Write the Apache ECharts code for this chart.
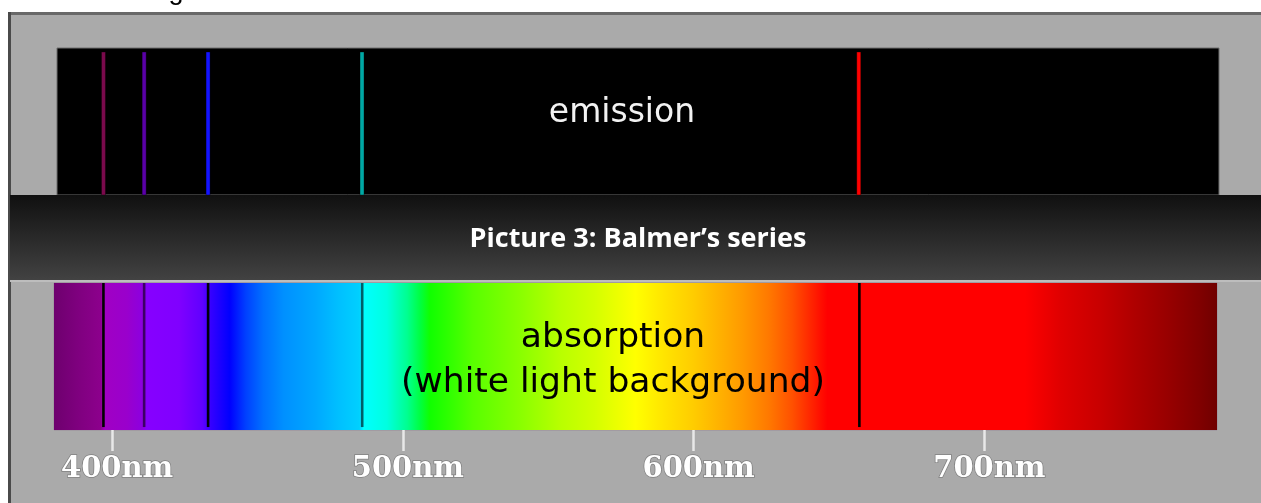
<!DOCTYPE html>
<html>
<head>
<meta charset="utf-8">
<title>Balmer series</title>
<script src="https://cdn.jsdelivr.net/npm/echarts@6/dist/echarts.min.js"></script>
<style>
  html, body { margin: 0; padding: 0; background: #ffffff; }
  #chart { width: 1261px; height: 503px; }
</style>
</head>
<body>
<div id="chart"></div>
<script>
// Hydrogen Balmer lines (nm): H-epsilon, H-delta, H-gamma, H-beta, H-alpha
const balmerNm = [397, 411, 433, 486, 657];

// Wavelength ranges (nm) of the two panels, and the labelled ticks
const absorptionRange = [380, 780];
const emissionRange = [381, 781];
const tickNm = [400, 500, 600, 700];

// Visible-spectrum colour stops: wavelength (nm) and colour at that wavelength
const spectrumNm = [380, 389, 396, 397.5, 405, 410.5, 412, 423, 431, 434, 440.5, 446, 452, 459, 470, 478, 485, 486.5, 494.5, 501.5, 506, 509.3, 516, 524, 540, 554, 566, 580, 590, 600, 608, 617, 626, 634, 643.5, 646, 714, 726, 730.5, 740, 751, 763, 774, 780];
const spectrumColors = ['#6e006e', '#800080', '#8c008c', '#a000c4', '#9a00cc', '#8c00e0', '#8600ff', '#8000ff', '#6000ff', '#3400ff', '#0000ff', '#0040ff', '#0070ff', '#0090ff', '#00a8ff', '#00c0ff', '#00d0ff', '#00ffff', '#00ffe0', '#00ff90', '#00ff40', '#10ff00', '#30ff00', '#58ff00', '#88ff00', '#b8ff00', '#d4ff00', '#ffff00', '#ffe400', '#ffcc00', '#ffb400', '#ff9900', '#ff7800', '#ff5000', '#ff1000', '#ff0000', '#ff0000', '#e00000', '#d80000', '#c80000', '#b00000', '#980000', '#800000', '#700000'];

// Line colours in each panel
const emissionColors = ['#7a0a4c', '#5a00a8', '#1414ff', '#00a8a4', '#ff0000'];
const absorptionColors = ['#000000', '#3c0066', '#00000c', '#005f68', '#000000'];

const chart = echarts.init(document.getElementById('chart'), null, { renderer: 'canvas' });

function spectrumItem(params, api) {
  const p0 = api.coord([api.value(0), 1]);
  const p1 = api.coord([api.value(1), 0]);
  const lo = spectrumNm[0], hi = spectrumNm[spectrumNm.length - 1];
  const stops = spectrumNm.map((nm, i) => ({ offset: (nm - lo) / (hi - lo), color: spectrumColors[i] }));
  return {
    type: 'rect',
    shape: { x: p0[0], y: p0[1], width: p1[0] - p0[0], height: p1[1] - p0[1] },
    style: { fill: new echarts.graphic.LinearGradient(0, 0, 1, 0, stops) }
  };
}

function lineItem(colors, width, yFrom, yTo, edge) {
  return function (params, api) {
    const top = api.coord([api.value(0), yTo]);
    const bottom = api.coord([api.value(0), yFrom]);
    const c = colors[params.dataIndex];
    return {
      type: 'rect',
      shape: { x: top[0] - width / 2, y: top[1], width: width, height: bottom[1] - top[1] },
      style: { fill: c, stroke: edge ? 'rgba(0,0,0,0.35)' : null, lineWidth: edge ? 1 : 0 }
    };
  };
}

const option = {
  backgroundColor: '#ffffff',
  animation: false,
  title: {
    text: 'Picture 3: Balmer\u2019s series',
    left: 638,
    top: 222,
    textAlign: 'center',
    padding: 0,
    textStyle: {
      color: '#ffffff',
      fontFamily: 'Open Sans',
      fontWeight: 'bold',
      fontSize: 27,
      lineHeight: 34
    }
  },
  graphic: [
    // page frame
    { type: 'rect', z: -20, silent: true, shape: { x: 8, y: 12, width: 1253, height: 491 }, style: { fill: '#aaaaaa' } },
    { type: 'rect', z: -19, silent: true, shape: { x: 8, y: 12, width: 1253, height: 3 }, style: { fill: '#686868' } },
    { type: 'rect', z: -19, silent: true, shape: { x: 8, y: 12, width: 3, height: 491 }, style: { fill: '#4a4a4a' } },
    { type: 'text', z: -18, silent: true, x: 176, y: 5, style: { text: 'g', fill: '#000', font: '27px "Liberation Sans"', align: 'center', verticalAlign: 'bottom' } },
    // caption band between the panels
    {
      type: 'rect', z: 5, silent: true,
      shape: { x: 10, y: 195, width: 1251, height: 85 },
      style: { fill: new echarts.graphic.LinearGradient(0, 0, 0, 1, [{ offset: 0, color: '#101010' }, { offset: 1, color: '#424242' }]) }
    },
    { type: 'rect', z: 5, silent: true, shape: { x: 10, y: 280, width: 1251, height: 2 }, style: { fill: '#bdbdbd' } },
    // panel annotations
    {
      type: 'text', z: 20, silent: true, x: 622, y: 113,
      style: { text: 'emission', fill: '#f2f2f2', font: '33px "DejaVu Sans"', align: 'center', verticalAlign: 'middle' }
    },
    {
      type: 'text', z: 20, silent: true, x: 613, y: 361,
      style: { text: 'absorption\n(white light background)', fill: '#000000', font: '34.5px "DejaVu Sans"', lineHeight: 45, align: 'center', verticalAlign: 'middle' }
    }
  ],
  grid: [
    { left: 57, top: 48, width: 1162, height: 147, show: true, backgroundColor: '#000000', borderColor: '#6e6e6e', borderWidth: 1 },
    { left: 54, top: 283, width: 1163, height: 147, show: true, backgroundColor: 'transparent', borderColor: '#9a8c9a', borderWidth: 1 }
  ],
  xAxis: [
    { gridIndex: 0, type: 'value', min: emissionRange[0], max: emissionRange[1], show: false },
    {
      gridIndex: 1, type: 'value', min: absorptionRange[0], max: absorptionRange[1],
      axisLine: { show: false },
      splitLine: { show: false },
      axisTick: { show: true, customValues: tickNm, length: 21, lineStyle: { color: '#e8e8e8', width: 2.5 } },
      axisLabel: {
        show: true,
        customValues: tickNm,
        formatter: v => v + 'nm',
        margin: 25,
        padding: [0, 0, 0, 10],
        color: '#ffffff',
        fontFamily: 'DejaVu Serif',
        fontWeight: 'bold',
        fontSize: 29,
        textBorderColor: 'rgba(110,110,110,0.7)',
        textBorderWidth: 1.5
      }
    }
  ],
  yAxis: [
    { gridIndex: 0, type: 'value', min: 0, max: 1, show: false },
    { gridIndex: 1, type: 'value', min: 0, max: 1, show: false }
  ],
  series: [
    {
      name: 'emission lines', type: 'custom', xAxisIndex: 0, yAxisIndex: 0,
      renderItem: lineItem(emissionColors, 4, 0, 0.973, true),
      data: balmerNm.map(nm => [nm]), silent: true
    },
    {
      name: 'spectrum', type: 'custom', xAxisIndex: 1, yAxisIndex: 1,
      renderItem: spectrumItem,
      data: [[absorptionRange[0], absorptionRange[1]]], silent: true
    },
    {
      name: 'absorption lines', type: 'custom', xAxisIndex: 1, yAxisIndex: 1, z: 3,
      renderItem: lineItem(absorptionColors, 2.6, 0.02, 1, false),
      data: balmerNm.map(nm => [nm]), silent: true
    }
  ]
};

chart.setOption(option);
</script>
</body>
</html>
